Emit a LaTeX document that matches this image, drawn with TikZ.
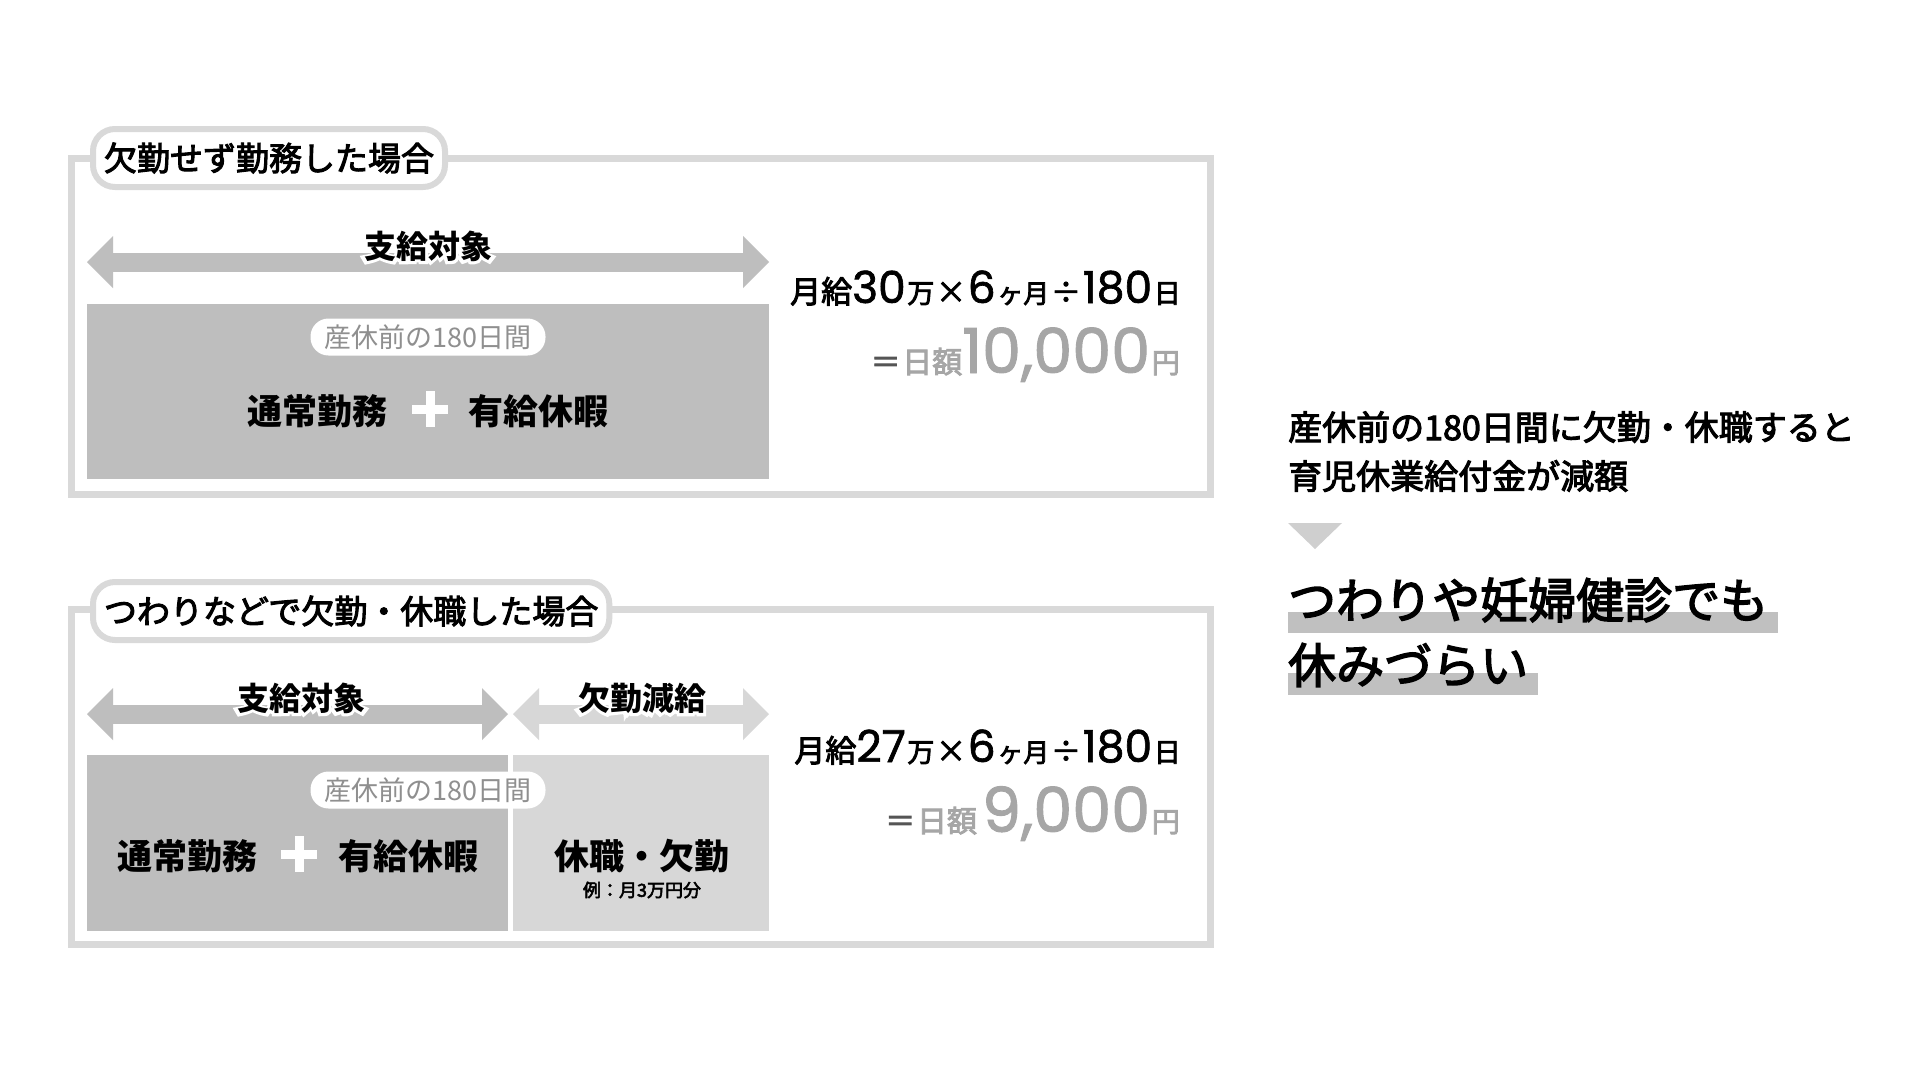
\documentclass[tikz,border=0pt]{standalone}
\usepackage{fontspec}
\setmainfont{Noto Sans CJK JP}
\newfontfamily\medfont{Noto Sans CJK JP}[FakeBold=3]
\newfontfamily\halofont{Noto Sans CJK JP}[FakeBold=22]
\newfontfamily\numfont{Poppins}[FakeBold=1.5]
\usetikzlibrary{arrows.meta}
\definecolor{lg}{HTML}{D9D9D9}
\definecolor{dg}{HTML}{BEBEBE}
\definecolor{mg}{HTML}{D7D7D7}
\definecolor{pg}{HTML}{8F8F8F}
\definecolor{ng}{HTML}{A6A6A6}
\definecolor{eg}{HTML}{555555}
\definecolor{hg}{HTML}{C0C0C0}
\definecolor{tg}{HTML}{CFCFCF}
\newcommand\fs[1]{\fontsize{#1}{#1}\selectfont}
\newcommand\halo[1]{\rlap{\color{white}\halofont\mdseries #1}#1}
\tikzset{tp/.tip={Triangle[width=52pt,length=26pt,line width=0pt]}}
\begin{document}
\begin{tikzpicture}[x=1pt,y=-1pt]
    \tikzset{%
        fr/.style={draw=lg, line width=7pt},
        tag/.style={draw=lg, line width=6pt, fill=white, rounded corners=22pt, inner xsep=11pt, inner ysep=0pt, minimum height=58pt, anchor=west, font=\fs{33}\medfont},
        sp/.style={line width=19pt, tp-tp},
        period/.style={fill=white, text=pg, rounded corners=18pt, minimum width=235pt, minimum height=37pt, inner sep=0pt, font=\fs{27}},
        lbl/.style={inner sep=0pt, font=\fs{32}\bfseries},
        big/.style={inner sep=0pt, font=\fs{35}\bfseries},
        pl/.style={draw=white, line width=9pt},
        fm/.style={anchor=base east, inner sep=0pt, font=\medfont},
        rt/.style={anchor=west, inner sep=0pt}
        }
    \fill[white](0,0)rectangle(1920,1080);
    \useasboundingbox(0,0)rectangle(1920,1080);
    % upper case
    \draw[fr](71,158)rectangle(1210,494);
    \node[tag](t1)at(90,158){欠勤せず勤務した場合};
    \coordinate(a1l)at(87,262);
    \coordinate(a1r)at(769,262);
    \draw[sp,draw=dg](a1l)--(a1r);
    \node[lbl](s1)at(428,246){\halo{支給対象}};
    \fill[dg](87,304)rectangle(769,479);
    \node[period](p1)at(428,337){産休前の180日間};
    \node[big](w1)at(317,411){通常勤務};
    \coordinate(c1)at(430,409);
    \draw[pl](c1)+(-18,0)--+(18,0)(c1)+(0,-18)--+(0,18);
    \node[big](v1)at(538,411){有給休暇};
    \node[fm](f1)at(1181,303){{\fs{31}月給}{\numfont\fs{44}30}\,{\fs{27}万}\,{\fs{30}×}\,{\numfont\fs{44}6}\,{\fs{26}ヶ月}\,{\fs{30}÷}\,{\numfont\fs{44}180}\,{\fs{27}日}};
    \node[fm](g1)at(1180,373){{\color{eg}\fs{30}＝}\,{\color{ng}\fs{30}日額}{\color{ng}\numfont\fs{62}10,000}\,{\color{ng}\fs{28}円}};
    % lower case
    \draw[fr](71,609)rectangle(1210,944);
    \node[tag](t2)at(90,611){つわりなどで欠勤・休職した場合};
    \coordinate(a2l)at(87,714);
    \coordinate(a2m)at(508,714);
    \coordinate(a3m)at(513,714);
    \coordinate(a3r)at(769,714);
    \draw[sp,draw=dg](a2l)--(a2m);
    \draw[sp,draw=mg](a3m)--(a3r);
    \node[lbl](s2)at(301,698){\halo{支給対象}};
    \node[lbl](s3)at(642,698){\halo{欠勤減給}};
    \fill[dg](87,755)rectangle(508,931);
    \fill[mg](513,755)rectangle(769,931);
    \node[period](p2)at(428,790){産休前の180日間};
    \node[big](w2)at(187,856){通常勤務};
    \coordinate(c2)at(299,854);
    \draw[pl](c2)+(-18,0)--+(18,0)(c2)+(0,-18)--+(0,18);
    \node[big](v2)at(408,856){有給休暇};
    \node[big](k2)at(642,856){休職・欠勤};
    \node[inner sep=0pt, font=\fs{18}\medfont](e2)at(642,890){例：月3万円分};
    \node[fm](f2)at(1181,762){{\fs{31}月給}{\numfont\fs{44}27}\,{\fs{27}万}\,{\fs{30}×}\,{\numfont\fs{44}6}\,{\fs{26}ヶ月}\,{\fs{30}÷}\,{\numfont\fs{44}180}\,{\fs{27}日}};
    \node[fm](g2)at(1180,832){{\color{eg}\fs{30}＝}\,{\color{ng}\fs{30}日額}\enspace{\color{ng}\numfont\fs{62}9,000}\,{\color{ng}\fs{28}円}};
    % right side
    \node[rt,font=\fs{34}\medfont](m1)at(1288,427){産休前の180日間に欠勤・休職すると};
    \node[rt,font=\fs{34}\medfont](m2)at(1288,476){育児休業給付金が減額};
    \fill[tg](1288,523)--(1342,523)--(1315,549)--cycle;
    \fill[hg](1288,612)rectangle(1778,633);
    \fill[hg](1288,673)rectangle(1538,695);
    \node[rt,font=\fs{48}\medfont](h1)at(1288,600){つわりや妊婦健診でも};
    \node[rt,font=\fs{48}\medfont](h2)at(1288,665){休みづらい};
\end{tikzpicture}
\end{document}
